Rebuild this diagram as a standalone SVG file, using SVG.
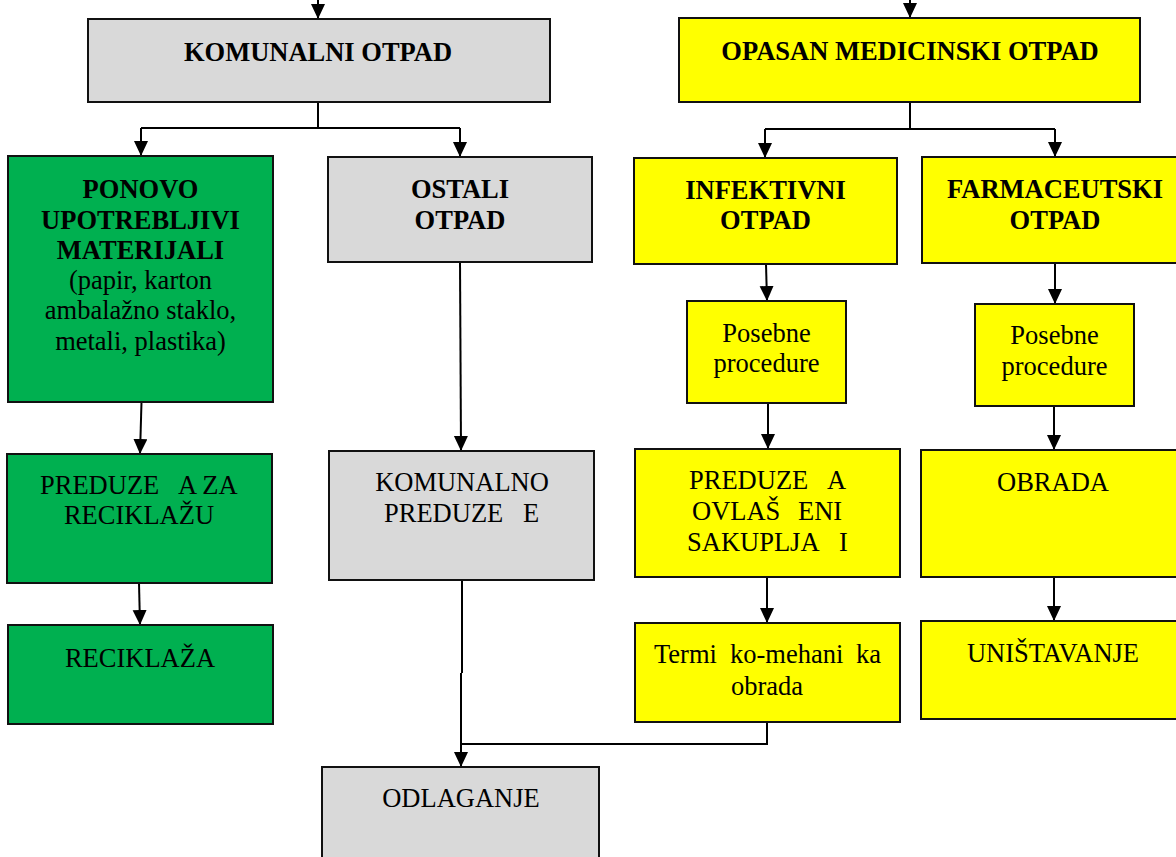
<svg xmlns="http://www.w3.org/2000/svg" width="1176" height="857" viewBox="0 0 1176 857">
<style>
.box{stroke:#111;stroke-width:2}
.g{fill:#D9D9D9}.gr{fill:#00B050}.y{fill:#FFFF00}
text{font-family:"Liberation Serif","Times New Roman",serif;font-size:26.5px;fill:#000}
.b{font-weight:bold}
.c{text-anchor:middle}
.ln{fill:none;stroke:#000;stroke-width:2}
</style>
<defs>
<marker id="ah" markerUnits="userSpaceOnUse" markerWidth="16" markerHeight="16" refX="15" refY="7" orient="auto">
<path d="M0,0 L15,7 L0,14 z" fill="#000"/>
</marker>
</defs>
<rect width="1176" height="857" fill="#fff"/>

<g id="connectors" class="ln">
<line x1="318" y1="0" x2="318" y2="19" marker-end="url(#ah)"/>
<line x1="910" y1="0" x2="910" y2="18" marker-end="url(#ah)"/>
<polyline points="318,102 318,128"/>
<polyline points="141,128 460,128"/>
<line x1="141" y1="128" x2="141" y2="156" marker-end="url(#ah)"/>
<line x1="460" y1="128" x2="460" y2="157" marker-end="url(#ah)"/>
<polyline points="910,102 910,129"/>
<polyline points="765,129 1055,129"/>
<line x1="765" y1="129" x2="765" y2="158" marker-end="url(#ah)"/>
<line x1="1055" y1="129" x2="1055" y2="157" marker-end="url(#ah)"/>
<line x1="141.5" y1="402" x2="140" y2="454" marker-end="url(#ah)"/>
<line x1="139" y1="583" x2="140" y2="625" marker-end="url(#ah)"/>
<line x1="460" y1="262" x2="461" y2="451" marker-end="url(#ah)"/>
<polyline points="462,580 462,673"/>
<line x1="461" y1="673" x2="461" y2="767" marker-end="url(#ah)"/>
<polyline points="767,722 767,744 461,744"/>
<line x1="766" y1="264" x2="767" y2="301" marker-end="url(#ah)"/>
<line x1="768" y1="403" x2="768" y2="449" marker-end="url(#ah)"/>
<line x1="767" y1="577" x2="767" y2="623" marker-end="url(#ah)"/>
<line x1="1055" y1="263" x2="1055" y2="304" marker-end="url(#ah)"/>
<line x1="1054" y1="406" x2="1054" y2="450" marker-end="url(#ah)"/>
<line x1="1054" y1="577" x2="1054" y2="621" marker-end="url(#ah)"/>
</g>

<g id="komunalni-otpad">
<rect class="box g" x="88" y="19" width="462" height="83"/>
<text class="b c" x="318" y="61">KOMUNALNI OTPAD</text>
</g>
<g id="opasan-medicinski-otpad">
<rect class="box y" x="679" y="18" width="461" height="84"/>
<text class="b c" x="910" y="60">OPASAN MEDICINSKI OTPAD</text>
</g>
<g id="ponovo">
<rect class="box gr" x="8" y="156" width="265" height="246"/>
<text class="b c" x="140.5" y="198">PONOVO</text>
<text class="b c" x="140.5" y="229">UPOTREBLJIVI</text>
<text class="b c" x="140.5" y="259">MATERIJALI</text>
<text class="c" x="140.5" y="289">(papir, karton</text>
<text class="c" x="140.5" y="319">ambalažno staklo,</text>
<text class="c" x="140.5" y="350">metali, plastika)</text>
</g>
<g id="ostali-otpad">
<rect class="box g" x="328" y="157" width="264" height="105"/>
<text class="b c" x="460" y="198">OSTALI</text>
<text class="b c" x="460" y="229">OTPAD</text>
</g>
<g id="infektivni-otpad">
<rect class="box y" x="634" y="158" width="263" height="106"/>
<text class="b c" x="765.5" y="199">INFEKTIVNI</text>
<text class="b c" x="765.5" y="229">OTPAD</text>
</g>
<g id="farmaceutski-otpad">
<rect class="box y" x="922" y="157" width="270" height="106"/>
<text class="b c" x="1055" y="198">FARMACEUTSKI</text>
<text class="b c" x="1055" y="229">OTPAD</text>
</g>
<g id="posebne-inf">
<rect class="box y" x="687" y="301" width="159" height="102"/>
<text class="c" x="766.5" y="342">Posebne</text>
<text class="c" x="766.5" y="372">procedure</text>
</g>
<g id="posebne-farm">
<rect class="box y" x="975" y="304" width="159" height="102"/>
<text class="c" x="1054.5" y="344">Posebne</text>
<text class="c" x="1054.5" y="375">procedure</text>
</g>
<g id="preduzeca-za-reciklazu">
<rect class="box gr" x="7" y="454" width="265" height="129"/>
<text y="494"><tspan x="40">PREDUZE</tspan><tspan x="178">A ZA</tspan></text>
<text class="c" x="139" y="524">RECIKLAŽU</text>
</g>
<g id="reciklaza">
<rect class="box gr" x="8" y="625" width="265" height="99"/>
<text class="c" x="140" y="667">RECIKLAŽA</text>
</g>
<g id="komunalno-preduzece">
<rect class="box g" x="329" y="451" width="265" height="129"/>
<text class="c" x="462" y="491">KOMUNALNO</text>
<text y="522"><tspan x="384">PREDUZE</tspan><tspan x="523">E</tspan></text>
</g>
<g id="preduzeca-ovlasceni">
<rect class="box y" x="635" y="449" width="265" height="128"/>
<text y="489"><tspan x="689">PREDUZE</tspan><tspan x="827">A</tspan></text>
<text y="520"><tspan x="692">OVLAŠ</tspan><tspan x="798">ENI</tspan></text>
<text y="551"><tspan x="687">SAKUPLJA</tspan><tspan x="839">I</tspan></text>
</g>
<g id="obrada">
<rect class="box y" x="921" y="450" width="270" height="127"/>
<text class="c" x="1053" y="491">OBRADA</text>
</g>
<g id="termicko">
<rect class="box y" x="635" y="623" width="265" height="99"/>
<text y="663"><tspan x="654">Termi</tspan><tspan x="730">ko-mehani</tspan><tspan x="856">ka</tspan></text>
<text class="c" x="767" y="695">obrada</text>
</g>
<g id="unistavanje">
<rect class="box y" x="921" y="621" width="270" height="98"/>
<text class="c" x="1053" y="662">UNIŠTAVANJE</text>
</g>
<g id="odlaganje">
<rect class="box g" x="322" y="767" width="277" height="100"/>
<text class="c" x="461" y="807">ODLAGANJE</text>
</g>
</svg>
